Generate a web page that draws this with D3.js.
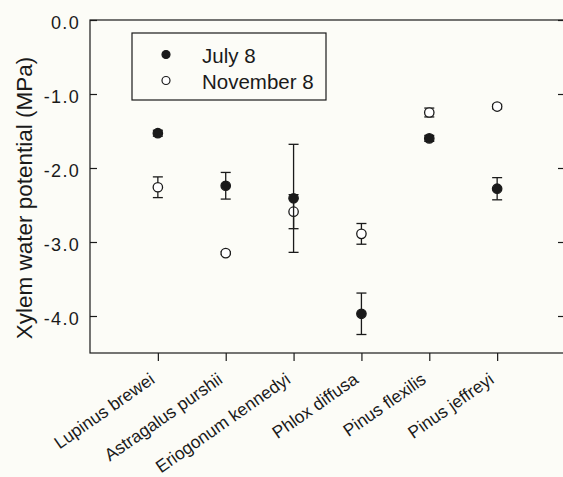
<!DOCTYPE html>
<html>
<head>
<meta charset="utf-8">
<script src="https://cdn.jsdelivr.net/npm/d3@7"></script>
<style>
  body { margin: 0; background: #fcfcf7; }
  svg { display: block; }
</style>
</head>
<body>
<div id="chart"></div>
<script>
const species = ["Lupinus brewei", "Astragalus purshii", "Eriogonum kennedyi", "Phlox diffusa", "Pinus flexilis", "Pinus jeffreyi"];
const julyMean = [-1.53, -2.24, -2.41, -3.97, -1.60, -2.28];
const julyErr = [0.04, 0.18, 0.73, 0.28, 0.04, 0.15];
const novMean = [-2.26, -3.15, -2.59, -2.89, -1.25, -1.17];
const novErr = [0.14, 0.02, 0.23, 0.14, 0.06, 0.03];
const yTicks = [0, -1, -2, -3, -4];

const width = 563, height = 477;
const m = { left: 90, top: 20, right: -2, bottom: 124 };

const svg = d3.select("#chart").append("svg")
    .attr("width", width)
    .attr("height", height)
    .style("font-family", "'Liberation Sans', Arial, sans-serif");

svg.append("rect").attr("width", width).attr("height", height).attr("fill", "#fcfcf7");

const x = d3.scaleLinear().domain([0, 7]).range([m.left, width - m.right]);
const y = d3.scaleLinear().domain([0, -4.5]).range([m.top, height - m.bottom]);

const ink = "#1a1a1a";

// frame
svg.append("rect")
    .attr("x", x(0)).attr("y", y(0))
    .attr("width", x(7) - x(0)).attr("height", y(-4.5) - y(0))
    .attr("fill", "none").attr("stroke", ink).attr("stroke-width", 1.2);

// left axis, ticks inward
const yl = svg.append("g").attr("transform", `translate(${x(0)},0)`)
    .call(d3.axisRight(y).tickValues(yTicks).tickSize(7).tickFormat(""));
yl.select(".domain").remove();
yl.selectAll("line").attr("stroke", ink).attr("stroke-width", 1.2);

// right axis, ticks inward
const yr = svg.append("g").attr("transform", `translate(${x(7)},0)`)
    .call(d3.axisLeft(y).tickValues(yTicks).tickSize(7).tickFormat(""));
yr.select(".domain").remove();
yr.selectAll("line").attr("stroke", ink).attr("stroke-width", 1.2);

// y tick labels
svg.append("g").selectAll("text").data(yTicks).join("text")
    .attr("x", 80).attr("y", d => y(d))
    .attr("dy", "0.52em")
    .attr("text-anchor", "end")
    .attr("font-size", 18)
    .attr("letter-spacing", 1.3)
    .attr("fill", ink)
    .text(d => d3.format(".1f")(d).replace("−", "-"));

// y title
svg.append("text")
    .attr("transform", `translate(32,198) rotate(-90)`)
    .attr("text-anchor", "middle")
    .attr("font-size", 22.5)
    .attr("fill", ink)
    .text("Xylem water potential (MPa)");

// bottom axis, ticks outward
const xa = svg.append("g").attr("transform", `translate(0,${y(-4.5)})`)
    .call(d3.axisBottom(x).tickValues(d3.range(1, 7)).tickSize(8).tickFormat(""));
xa.select(".domain").remove();
xa.selectAll("line").attr("stroke", ink).attr("stroke-width", 1.2);

// rotated category labels
svg.append("g").selectAll("text").data(species).join("text")
    .attr("transform", (d, i) => `translate(${x(i + 1) - 2},${y(-4.5) + 29}) rotate(-35)`)
    .attr("text-anchor", "end")
    .attr("font-size", 17.5)
    .attr("fill", ink)
    .text(d => d);

// error bars and points
function drawSeries(means, errs, filled) {
    const g = svg.append("g");
    means.forEach((v, i) => {
        const cx = x(i + 1);
        const lo = y(v - errs[i]), hi = y(v + errs[i]);
        g.append("line").attr("x1", cx).attr("x2", cx).attr("y1", lo).attr("y2", hi)
            .attr("stroke", ink).attr("stroke-width", 1.3);
        [lo, hi].forEach(yy => g.append("line")
            .attr("x1", cx - 5).attr("x2", cx + 5).attr("y1", yy).attr("y2", yy)
            .attr("stroke", ink).attr("stroke-width", 1.3));
    });
    g.selectAll("circle").data(means).join("circle")
        .attr("cx", (d, i) => x(i + 1))
        .attr("cy", d => y(d))
        .attr("r", 4.7)
        .attr("fill", filled ? ink : "#fff")
        .attr("stroke", ink)
        .attr("stroke-width", 1.3);
}
drawSeries(novMean, novErr, false);
drawSeries(julyMean, julyErr, true);

// legend
const lg = svg.append("g");
lg.append("rect").attr("x", 132).attr("y", 33).attr("width", 194).attr("height", 67)
    .attr("fill", "#fcfcf7").attr("stroke", ink).attr("stroke-width", 1.2);
const legendItems = [["July 8", true], ["November 8", false]];
legendItems.forEach(([label, filled], i) => {
    const ly = 54.5 + i * 26;
    lg.append("circle").attr("cx", 166).attr("cy", ly).attr("r", 4)
        .attr("fill", filled ? ink : "#fff").attr("stroke", ink).attr("stroke-width", 1.2);
    lg.append("text").attr("x", 202).attr("y", ly + 8.5)
        .attr("font-size", 20.5).attr("fill", ink).text(label);
});
</script>
</body>
</html>
